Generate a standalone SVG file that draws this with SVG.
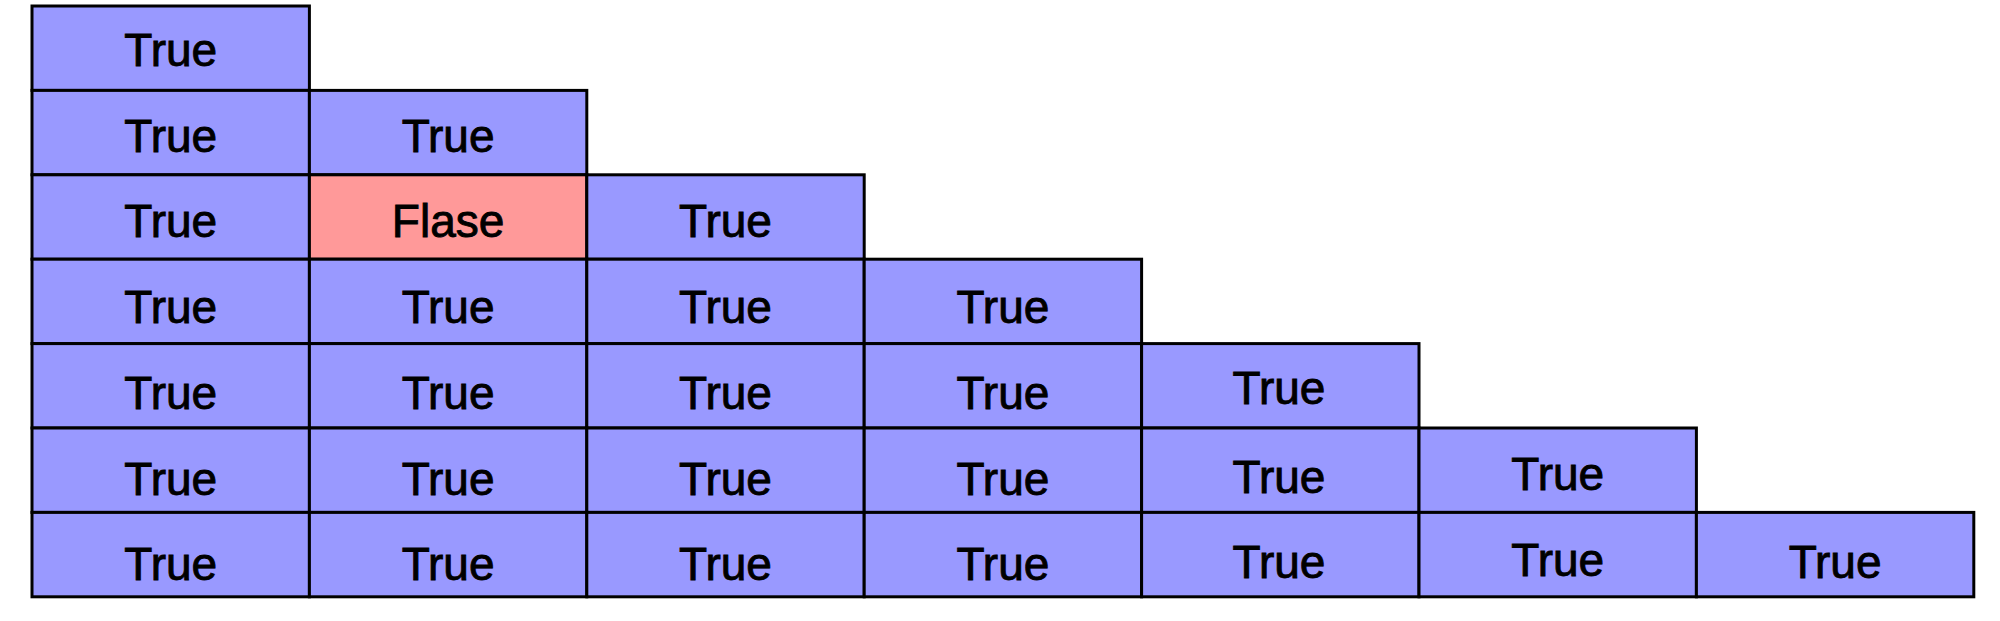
<svg xmlns="http://www.w3.org/2000/svg" width="2000" height="621" viewBox="0 0 2000 621">
<style>
.c rect{fill:#9999ff;stroke:#000;stroke-width:3}
.c.f rect{fill:#ff9999}
.c text{font-family:"Liberation Sans",Arial,sans-serif;font-size:46px;fill:#000;text-anchor:middle;stroke:#000;stroke-width:0.9}
</style>
<rect width="2000" height="621" fill="#fff"/>
<g id="r0c0" class="c"><rect x="32" y="6" width="277.4" height="84.4"/><text x="170.7" y="66">True</text></g>
<g id="r1c0" class="c"><rect x="32" y="90.4" width="277.4" height="84.4"/><text x="170.7" y="152">True</text></g>
<g id="r1c1" class="c"><rect x="309.4" y="90.4" width="277.4" height="84.4"/><text x="448.1" y="152">True</text></g>
<g id="r2c0" class="c"><rect x="32" y="174.8" width="277.4" height="84.4"/><text x="170.7" y="237">True</text></g>
<g id="r2c1" class="c f"><rect x="309.4" y="174.8" width="277.4" height="84.4"/><text x="448.1" y="237">Flase</text></g>
<g id="r2c2" class="c"><rect x="586.8" y="174.8" width="277.4" height="84.4"/><text x="725.5" y="237">True</text></g>
<g id="r3c0" class="c"><rect x="32" y="259.2" width="277.4" height="84.4"/><text x="170.7" y="323">True</text></g>
<g id="r3c1" class="c"><rect x="309.4" y="259.2" width="277.4" height="84.4"/><text x="448.1" y="323">True</text></g>
<g id="r3c2" class="c"><rect x="586.8" y="259.2" width="277.4" height="84.4"/><text x="725.5" y="323">True</text></g>
<g id="r3c3" class="c"><rect x="864.2" y="259.2" width="277.4" height="84.4"/><text x="1002.9" y="323">True</text></g>
<g id="r4c0" class="c"><rect x="32" y="343.6" width="277.4" height="84.4"/><text x="170.7" y="409">True</text></g>
<g id="r4c1" class="c"><rect x="309.4" y="343.6" width="277.4" height="84.4"/><text x="448.1" y="409">True</text></g>
<g id="r4c2" class="c"><rect x="586.8" y="343.6" width="277.4" height="84.4"/><text x="725.5" y="409">True</text></g>
<g id="r4c3" class="c"><rect x="864.2" y="343.6" width="277.4" height="84.4"/><text x="1002.9" y="409">True</text></g>
<g id="r4c4" class="c"><rect x="1141.6" y="343.6" width="277.4" height="84.4"/><text x="1279" y="404">True</text></g>
<g id="r5c0" class="c"><rect x="32" y="428" width="277.4" height="84.4"/><text x="170.7" y="495">True</text></g>
<g id="r5c1" class="c"><rect x="309.4" y="428" width="277.4" height="84.4"/><text x="448.1" y="495">True</text></g>
<g id="r5c2" class="c"><rect x="586.8" y="428" width="277.4" height="84.4"/><text x="725.5" y="495">True</text></g>
<g id="r5c3" class="c"><rect x="864.2" y="428" width="277.4" height="84.4"/><text x="1002.9" y="495">True</text></g>
<g id="r5c4" class="c"><rect x="1141.6" y="428" width="277.4" height="84.4"/><text x="1279" y="493">True</text></g>
<g id="r5c5" class="c"><rect x="1419" y="428" width="277.4" height="84.4"/><text x="1557.7" y="490">True</text></g>
<g id="r6c0" class="c"><rect x="32" y="512.4" width="277.4" height="84.4"/><text x="170.7" y="580">True</text></g>
<g id="r6c1" class="c"><rect x="309.4" y="512.4" width="277.4" height="84.4"/><text x="448.1" y="580">True</text></g>
<g id="r6c2" class="c"><rect x="586.8" y="512.4" width="277.4" height="84.4"/><text x="725.5" y="580">True</text></g>
<g id="r6c3" class="c"><rect x="864.2" y="512.4" width="277.4" height="84.4"/><text x="1002.9" y="580">True</text></g>
<g id="r6c4" class="c"><rect x="1141.6" y="512.4" width="277.4" height="84.4"/><text x="1279" y="578">True</text></g>
<g id="r6c5" class="c"><rect x="1419" y="512.4" width="277.4" height="84.4"/><text x="1557.7" y="576">True</text></g>
<g id="r6c6" class="c"><rect x="1696.4" y="512.4" width="277.4" height="84.4"/><text x="1835.1" y="578">True</text></g>
<g id="connectors"/>
</svg>
